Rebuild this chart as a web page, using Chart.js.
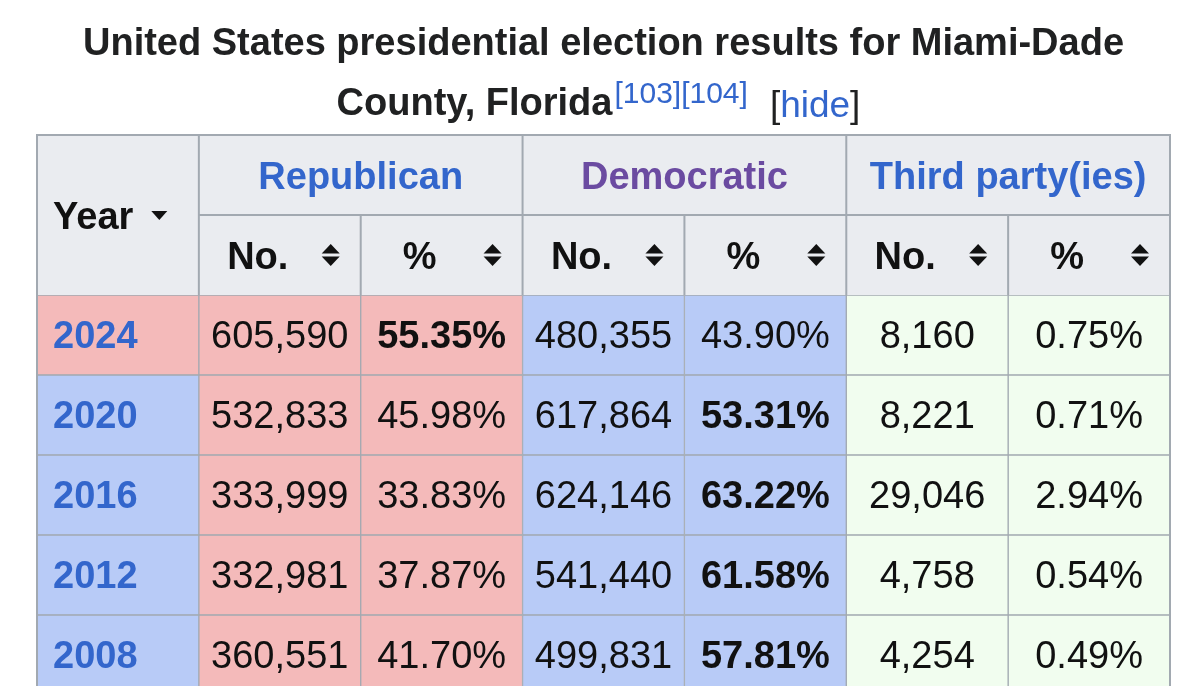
<!DOCTYPE html>
<html>
<head>
<meta charset="utf-8">
<title>Miami-Dade County presidential election results</title>
<script src="https://cdn.jsdelivr.net/npm/chart.js@4.4.1/dist/chart.umd.min.js"></script>
<style>
  html, body { margin: 0; padding: 0; background: #fff; overflow: hidden; }
  #wrap { width: 1200px; height: 720px; position: relative; }
</style>
</head>
<body>
<div id="wrap"><canvas id="results"></canvas></div>
<script>
const years = ["2024", "2020", "2016", "2012", "2008"];
const repVotes = [605590, 532833, 333999, 332981, 360551];
const repPct = [55.35, 45.98, 33.83, 37.87, 41.70];
const demVotes = [480355, 617864, 624146, 541440, 499831];
const demPct = [43.90, 53.31, 63.22, 61.58, 57.81];
const thirdVotes = [8160, 8221, 29046, 4758, 4254];
const thirdPct = [0.75, 0.71, 2.94, 0.54, 0.49];

const partyHeaders = ["Republican", "Democratic", "Third party(ies)"];
const subHeaders = ["No.", "%"];

const RED = "#f4baba";
const BLUE = "#b8cbf7";
const GREEN = "#f1fdef";
const HEAD = "#eaecf0";
const BORDER = "#a2a9b1";
const INK = "#111";
const LINK = "#3366cc";
const VISITED = "#6b4ba1";
const FONT = "'Liberation Sans', Arial, Helvetica, sans-serif";

const fmtNum = (v) => v.toLocaleString("en-US");
const fmtPct = (v) => v.toFixed(2) + "%";
const repWins = years.map((y, i) => repPct[i] > demPct[i]);

// one column per dataset, each cell is a floating bar [col, col + 1]
const columns = [
  { text: years, fill: () => null },
  { text: repVotes.map(fmtNum), fill: () => RED },
  { text: repPct.map(fmtPct), fill: () => RED, bold: (i) => repWins[i] },
  { text: demVotes.map(fmtNum), fill: () => BLUE },
  { text: demPct.map(fmtPct), fill: () => BLUE, bold: (i) => !repWins[i] },
  { text: thirdVotes.map(fmtNum), fill: () => GREEN },
  { text: thirdPct.map(fmtPct), fill: () => GREEN },
];

const datasets = columns.map((col, c) => ({
  data: years.map(() => [c, c + 1]),
  backgroundColor: (ctx) => c === 0 ? (repWins[ctx.dataIndex] ? RED : BLUE) : col.fill(),
  borderColor: BORDER,
  borderWidth: 1,
  borderSkipped: false,
  grouped: false,
  barPercentage: 1,
  categoryPercentage: 1,
}));

function sortIcon(ctx, cx, cy) {
  ctx.fillStyle = INK;
  ctx.beginPath();
  ctx.moveTo(cx - 9, cy - 1.5);
  ctx.lineTo(cx + 9, cy - 1.5);
  ctx.lineTo(cx, cy - 11);
  ctx.closePath();
  ctx.fill();
  ctx.beginPath();
  ctx.moveTo(cx - 9, cy + 1.5);
  ctx.lineTo(cx + 9, cy + 1.5);
  ctx.lineTo(cx, cy + 11);
  ctx.closePath();
  ctx.fill();
}

const tablePlugin = {
  id: "tablePlugin",
  beforeDatasetsDraw(chart) {
    const { ctx, chartArea, scales } = chart;
    const x = scales.x;
    const h = (chartArea.bottom - chartArea.top) / years.length;
    const top1 = chartArea.top - 2 * h;
    const top2 = chartArea.top - h;
    const edge = (c) => x.getPixelForValue(c);

    ctx.save();
    ctx.fillStyle = HEAD;
    ctx.fillRect(edge(0), top1, edge(7) - edge(0), 2 * h);
    ctx.strokeStyle = BORDER;
    ctx.lineWidth = 2;
    ctx.beginPath();
    // vertical lines
    [1, 3, 5].forEach((c) => { ctx.moveTo(edge(c), top1); ctx.lineTo(edge(c), chartArea.top); });
    [2, 4, 6].forEach((c) => { ctx.moveTo(edge(c), top2); ctx.lineTo(edge(c), chartArea.top); });
    ctx.moveTo(edge(1), top2); ctx.lineTo(edge(7), top2);
    ctx.stroke();

    // header text
    ctx.font = "bold 38px " + FONT;
    ctx.textAlign = "center";
    ctx.textBaseline = "alphabetic";
    partyHeaders.forEach((name, p) => {
      const l = edge(1 + p * 2), r = edge(3 + p * 2);
      ctx.fillStyle = p === 1 ? VISITED : LINK;
      ctx.fillText(name, (l + r) / 2, top1 + h / 2 + 14);
    });
    ctx.fillStyle = INK;
    for (let c = 1; c < 7; c++) {
      const l = edge(c), r = edge(c + 1);
      ctx.fillText(subHeaders[(c - 1) % 2], (l + r - 44) / 2, top2 + h / 2 + 14);
      sortIcon(ctx, r - 30, top2 + h / 2);
    }
    ctx.textAlign = "left";
    ctx.fillText("Year", edge(0) + 16, chartArea.top - h + 14);
    const yw = ctx.measureText("Year").width;
    const tx = edge(0) + 16 + yw + 26;
    const ty = chartArea.top - h;
    ctx.beginPath();
    ctx.moveTo(tx - 8, ty - 4);
    ctx.lineTo(tx + 8, ty - 4);
    ctx.lineTo(tx, ty + 5);
    ctx.closePath();
    ctx.fill();
    ctx.restore();
  },
  afterDatasetsDraw(chart) {
    const { ctx, chartArea, scales } = chart;
    const x = scales.x;
    const h = (chartArea.bottom - chartArea.top) / years.length;
    ctx.save();
    ctx.textBaseline = "alphabetic";
    columns.forEach((col, c) => {
      chart.getDatasetMeta(c).data.forEach((bar, i) => {
        const isYear = c === 0;
        const bold = isYear || (col.bold && col.bold(i));
        ctx.font = (bold ? "bold " : "") + "38px " + FONT;
        ctx.fillStyle = isYear ? LINK : INK;
        if (isYear) {
          ctx.textAlign = "left";
          ctx.fillText(col.text[i], bar.base + 16, bar.y + 13);
        } else {
          ctx.textAlign = "center";
          ctx.fillText(col.text[i], (bar.base + bar.x) / 2, bar.y + 13);
        }
      });
    });
    // outer border
    ctx.strokeStyle = BORDER;
    ctx.lineWidth = 2;
    ctx.strokeRect(x.getPixelForValue(0), chartArea.top - 2 * h, x.getPixelForValue(7) - x.getPixelForValue(0), chartArea.bottom - chartArea.top + 2 * h);

    // caption
    const cx = (x.getPixelForValue(0) + x.getPixelForValue(7)) / 2;
    ctx.fillStyle = "#202122";
    ctx.font = "bold 38px " + FONT;
    ctx.textAlign = "center";
    ctx.fillText("United States presidential election results for Miami-Dade", cx, 55);

    ctx.textAlign = "left";
    const part1 = "County, Florida";
    const sup = "[103][104]";
    const w1 = ctx.measureText(part1).width;
    ctx.font = "30px " + FONT;
    const w2 = ctx.measureText(sup).width;
    ctx.font = "37px " + FONT;
    const gap = 22;
    const wOpen = ctx.measureText("[").width;
    const wHide = ctx.measureText("hide").width;
    const wClose = ctx.measureText("]").width;
    let sx = cx - (w1 + 2 + w2 + gap + wOpen + wHide + wClose) / 2 - 5;
    ctx.font = "bold 38px " + FONT;
    ctx.fillStyle = "#202122";
    ctx.fillText(part1, sx, 115);
    sx += w1 + 2;
    ctx.font = "30px " + FONT;
    ctx.fillStyle = LINK;
    ctx.fillText(sup, sx, 103);
    sx += w2 + gap;
    ctx.font = "37px " + FONT;
    ctx.fillStyle = "#202122";
    ctx.fillText("[", sx, 117);
    ctx.fillStyle = LINK;
    ctx.fillText("hide", sx + wOpen, 117);
    ctx.fillStyle = "#202122";
    ctx.fillText("]", sx + wOpen + wHide, 117);
    ctx.restore();
  },
};

new Chart(document.getElementById("results"), {
  type: "bar",
  data: { labels: years, datasets },
  options: {
    indexAxis: "y",
    responsive: true,
    maintainAspectRatio: false,
    animation: false,
    layout: { padding: { left: 37, right: 30, top: 295, bottom: 25 } },
    scales: {
      x: { type: "linear", min: 0, max: 7, display: false },
      y: { type: "category", display: false, offset: true },
    },
    plugins: {
      legend: { display: false },
      tooltip: { enabled: false },
    },
  },
  plugins: [tablePlugin],
});
</script>
</body>
</html>
